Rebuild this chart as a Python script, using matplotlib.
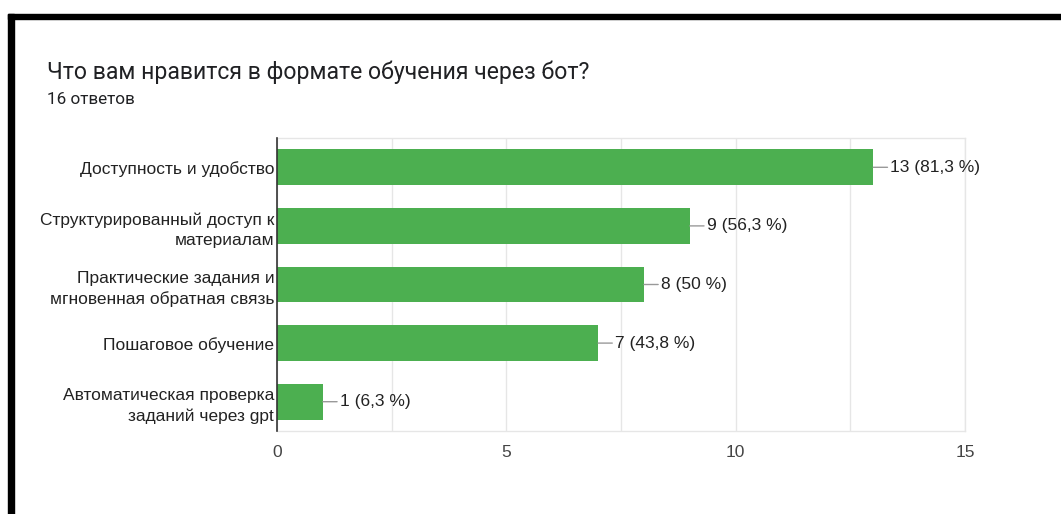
import matplotlib
matplotlib.use("Agg")
import matplotlib.pyplot as plt
from matplotlib.patches import Rectangle

categories = [
    "Доступность и удобство",
    "Структурированный доступ к\nматериалам",
    "Практические задания и\nмгновенная обратная связь",
    "Пошаговое обучение",
    "Автоматическая проверка\nзаданий через gpt",
]
counts = [13, 9, 8, 7, 1]
percents = ["81,3", "56,3", "50", "43,8", "6,3"]
x_ticks = [0, 5, 10, 15]
title = "Что вам нравится в формате обучения через бот?"
subtitle = "16 ответов"

W, H = 1061, 514
fig = plt.figure(figsize=(W / 100, H / 100), dpi=100)
fig.patch.set_facecolor("white")

# frame strokes along the top and left edges
fig.patches.append(Rectangle((8 / W, 1 - 19 / H), 1 - 8 / W, 5 / H,
                             transform=fig.transFigure, color="black", zorder=10))
fig.patches.append(Rectangle((8 / W, 0), 6 / W, 1 - 14 / H,
                             transform=fig.transFigure, color="black", zorder=10))

fig.text(47 / W, 1 - 72 / H, title, fontsize=16.6, family="Roboto",
         color="#202124", va="center", ha="left")
fig.text(47 / W, 1 - 99 / H, subtitle, fontsize=12.3, family="Roboto",
         color="#202124", va="center", ha="left")

left, right, top, bottom = 277, 965, 138, 431
ax = fig.add_axes([left / W, 1 - bottom / H, (right - left) / W, (bottom - top) / H])

ypos = list(range(len(categories)))
ax.barh(ypos, counts, height=0.61, color="#4caf50", zorder=3)

ax.set_xlim(0, 15)
ax.set_ylim(len(categories) - 0.5, -0.5)
ax.set_xticks(x_ticks)
ax.set_xticks([2.5, 7.5, 12.5], minor=True)
ax.grid(axis="x", which="both", color="#e6e6e6", lw=1, zorder=0)
ax.set_yticks(ypos)
ax.set_yticklabels(categories, fontsize=12.5, family="Liberation Sans",
                   color="#222222", linespacing=1.45)
ax.tick_params(axis="y", length=0, pad=2)
ax.tick_params(axis="x", which="both", length=0, pad=10, labelsize=12.5,
               labelcolor="#444444")
for lbl in ax.get_xticklabels():
    lbl.set_family("Liberation Sans")

for side in ("top", "bottom", "right"):
    ax.spines[side].set_color("#e6e6e6")
    ax.spines[side].set_linewidth(1)
ax.spines["left"].set_color("#333333")
ax.spines["left"].set_linewidth(1.2)
ax.spines["left"].set_zorder(4)

for i, (c, p) in enumerate(zip(counts, percents)):
    ax.annotate(f"{c} ({p} %)", xy=(c, i), xytext=(17, 0),
                textcoords="offset pixels", ha="left", va="center",
                fontsize=12.5, family="Liberation Sans", color="#222222",
                arrowprops=dict(arrowstyle="-", color="#999999", lw=1,
                                shrinkA=0, shrinkB=0, relpos=(0, 0.5)),
                zorder=5)

fig.savefig("out.png", dpi=100, facecolor="white")
